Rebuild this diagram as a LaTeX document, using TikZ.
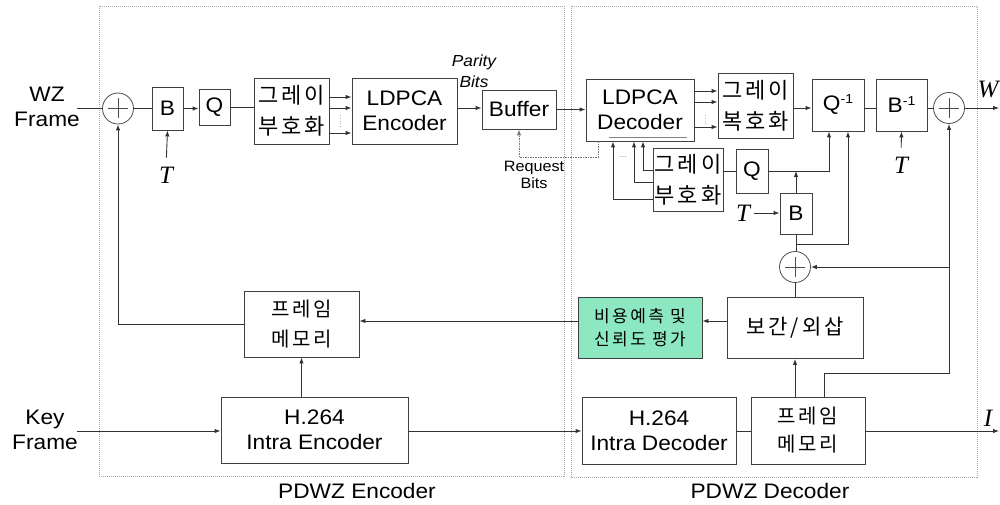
\documentclass[tikz,border=0pt]{standalone}
\usepackage{fontspec}
\setmainfont{Liberation Sans}[FakeStretch=1.08]
\newfontfamily\kr{Noto Sans CJK KR}[LetterSpace=14]
\newfontfamily\tms{Liberation Serif}
\usetikzlibrary{arrows.meta}
\definecolor{mint}{RGB}{140,232,192}
\begin{document}
\begin{tikzpicture}[x=1pt,y=-1pt,
  box/.style={draw=black!75, line width=0.9pt, inner sep=0pt, align=center, fill=white},
  ln/.style={draw=black!80, line width=0.9pt},
  arr/.style={ln, -{Latex[length=6pt,width=4.5pt]}},
  sumc/.style={circle, draw=black!70, line width=0.8pt, minimum size=31pt, inner sep=0pt,
    path picture={\draw[black!70,line width=0.8pt] ([xshift=-10pt]path picture bounding box.center) -- ([xshift=10pt]path picture bounding box.center);
                  \draw[black!70,line width=0.8pt] ([yshift=-10pt]path picture bounding box.center) -- ([yshift=10pt]path picture bounding box.center);}},
  fa/.style={font=\fontsize{21}{25}\selectfont},
  kg/.style={font=\kr\fontsize{22}{31}\selectfont},
  km/.style={font=\kr\fontsize{20}{30}\selectfont},
  kc/.style={font=\kr\fontsize{17}{23}\selectfont},
  tl/.style={font=\tms\itshape\fontsize{25}{25}\selectfont, inner sep=0pt},
  frame/.style={draw=black!35, line width=0.8pt, dash pattern=on 1pt off 1pt}
]
\useasboundingbox (0,0) rectangle (1000,505);

% frames
\draw[frame] (99,6) rectangle (564,476);
\draw[frame] (571,6) rectangle (977,477);

% encoder side
\node[fa, align=center] (wz) at (47,107) {WZ\\Frame};
\coordinate (wzin) at (77,108.5);
\node[sumc] (s1) at (118,108.5) {};
\node[box,fa,minimum width=31pt,minimum height=43pt] (B1) at (167.5,108.5) {B};
\node[box,fa,minimum width=31pt,minimum height=36pt] (Q1) at (214.5,107) {Q};
\node[box,kg,minimum width=75pt,minimum height=66pt] (G1) at (291.5,111) {그레이\\부호화};
\node[box,fa,minimum width=105pt,minimum height=66pt] (LE) at (404.5,111) {LDPCA\\Encoder};
\node[box,fa,minimum width=74pt,minimum height=39pt] (Buf) at (519,109.5) {Buffer};
\node[font=\itshape\fontsize{16}{21}\selectfont, align=center] (par) at (474,71) {Parity\\Bits};
\node[font=\fontsize{15}{17}\selectfont, align=center] (req) at (534,175) {Request\\Bits};
\node[tl] (T1) at (166,175) {T};
\node[box,km,minimum width=115pt,minimum height=66pt] (FM1) at (301.5,324) {프레임\\메모리};
\node[box,fa,minimum width=187pt,minimum height=66pt] (HE) at (314.5,430) {H.264\\Intra Encoder};
\node[fa, align=center] (key) at (45,430) {Key\\Frame};
\coordinate (kin) at (77,431);
\node[fa] (lenc) at (357,491) {PDWZ Encoder};

% decoder side
\node[box,fa,minimum width=108pt,minimum height=62pt] (LD) at (640,110) {LDPCA\\Decoder};
\node[box,kg,minimum width=75pt,minimum height=65pt] (GD) at (755.5,105.5) {그레이\\복호화};
\node[box,fa,minimum width=52pt,minimum height=52pt] (Qi) at (838,105) {Q\raisebox{7pt}{\fontsize{13}{13}\selectfont -1}};
\node[box,fa,minimum width=51pt,minimum height=52pt] (Bi) at (901.5,105) {B\raisebox{7pt}{\fontsize{13}{13}\selectfont -1}};
\node[sumc] (s2) at (949,108) {};
\coordinate (wout) at (999,108);
\node[tl] (W) at (988,90) {W};
\node[tl] (T2) at (901,165) {T};
\node[box,kg,minimum width=70pt,minimum height=63pt] (G2) at (688,179.5) {그레이\\부호화};
\node[box,fa,minimum width=32pt,minimum height=44pt] (Q2) at (752,171) {Q};
\node[box,fa,minimum width=32pt,minimum height=41pt] (B2) at (796,213.5) {B};
\node[tl] (T3) at (743,213) {T};
\node[sumc] (s3) at (795,267) {};
\node[box,font=\kr\fontsize{21}{24}\selectfont,minimum width=136pt,minimum height=61pt] (IE) at (795,328) {보간/외삽};
\node[box,kc,fill=mint,minimum width=124pt,minimum height=61pt] (CE) at (640,328) {비용예측 및\\신뢰도 평가};
\node[box,fa,minimum width=154pt,minimum height=67pt] (HD) at (659,430.5) {H.264\\Intra Decoder};
\node[box,font=\kr\fontsize{20}{28}\selectfont,minimum width=114pt,minimum height=67pt] (FM2) at (808,430.5) {프레임\\메모리};
\coordinate (iout) at (999,431);
\node[tl] (I) at (988,418) {I};
\node[fa] (ldec) at (770,491) {PDWZ Decoder};

% encoder connectors
\draw[ln] (wzin) -- (s1.west);
\draw[ln] (s1.east) -- (s1.east -| B1.west);
\draw[arr] (B1.east) -- (B1.east -| Q1.west);
\draw[ln] (Q1.east) -- (Q1.east -| G1.west);
\draw[arr, shorten <=9pt] (T1.north) -- (B1.south);
\foreach \s in {14,3,-22}{
  \draw[arr] ([yshift=\s pt]G1.east) -- ([yshift=\s pt]G1.east -| LE.west);
}
\draw[black!30, line width=0.8pt, dotted] ([xshift=11pt,yshift=-4pt]G1.east) -- ([xshift=11pt,yshift=-18pt]G1.east);
\draw[arr] ([yshift=3pt]LE.east) -- ([yshift=3pt]LE.east -| Buf.west);
\draw[arr] (Buf.east) -- (Buf.east -| LD.west);
\draw[ln, draw=black!55, dash pattern=on 1.5pt off 1pt, -{Latex[length=6pt,width=4.5pt]}] ([xshift=-42pt]LD.south) |- ([yshift=-28pt]Buf.south) -- (Buf.south);
\draw[arr] (FM1.west) -| (s1.south);
\draw[arr] (FM1.south |- HE.north) -- (FM1.south);
\draw[arr] (kin) -- (HE.west |- kin);
\draw[arr] (HE.east |- kin) -- (HD.west |- kin);

% decoder connectors
\draw[black!50, line width=0.6pt] ([xshift=-31pt,yshift=4pt]LD.south) -- ([xshift=47pt,yshift=4pt]LD.south);
\foreach \s in {19,8,-17}{
  \draw[arr] ([yshift=\s pt]LD.east) -- ([yshift=\s pt]LD.east -| GD.west);
}
\draw[black!30, line width=0.8pt, dotted] ([xshift=11pt,yshift=-5pt]LD.east) -- ([xshift=11pt,yshift=-14pt]LD.east);
\draw[arr] ([yshift=-2.5pt]GD.east) -- ([yshift=-2.5pt]GD.east -| Qi.west);
\draw[ln] ([yshift=-3pt]Qi.east) -- ([yshift=-3pt]Qi.east -| Bi.west);
\draw[ln] (Bi.east |- s2.west) -- (s2.west);
\draw[arr] (s2.east) -- (wout);
\draw[arr, shorten <=9pt] (T2.north) -- (Bi.south);
\draw[arr] ([yshift=9.5pt]G2.west) -| ([xshift=3pt]LD.south);
\draw[arr] ([yshift=-2.5pt]G2.west) -| ([xshift=-6pt]LD.south);
\draw[arr] ([yshift=-19.5pt]G2.west) -| ([xshift=-27pt]LD.south);
\node[font=\fontsize{9}{9}\selectfont, text=black!40] (dots) at (623,157) {...};
\draw[ln] (Q2.west -| G2.east) -- (Q2.west);
\draw[arr] (Q2.east) -| ([xshift=-9pt]Qi.south);
\draw[arr] (B2.north) -- (B2.north |- Q2.east);
\draw[arr, shorten <=4pt] (T3.east) -- (T3.east -| B2.west);
\draw[ln] (B2.south) -- (B2.south |- s3.north);
\draw[arr] ([yshift=-10pt]B2.south) -| ([xshift=10pt]Qi.south);
\draw[arr] ([xshift=16pt]FM2.north) -- ++(0,-23) -| (s2.south);
\draw[arr] (s2.south |- s3.east) -- (s3.east);
\draw[ln] (s3.south) -- (IE.north);
\draw[arr] (IE.south |- FM2.north) -- (IE.south);
\draw[arr] ([yshift=7pt]IE.west) -- ([yshift=7pt]IE.west -| CE.east);
\draw[arr] ([yshift=7pt]CE.west) -- ([yshift=7pt]CE.west -| FM1.east);
\draw[ln] (HD.east |- kin) -- (FM2.west |- kin);
\draw[arr] (FM2.east |- iout) -- (iout);
\end{tikzpicture}
\end{document}
